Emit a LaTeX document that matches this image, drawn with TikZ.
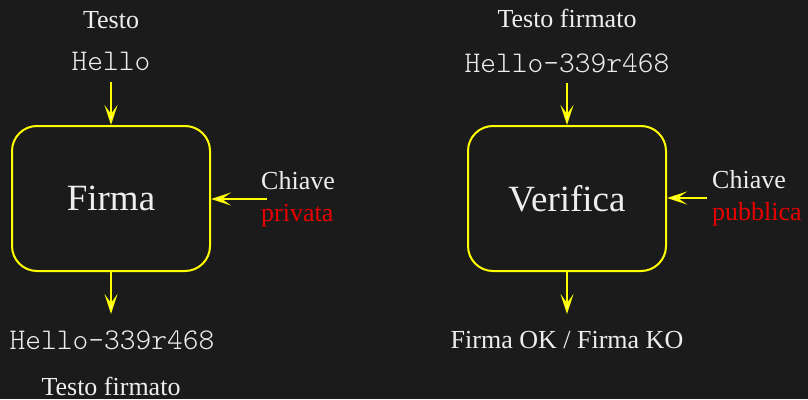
\documentclass[tikz,border=0pt]{standalone}
\usepackage{fontspec}
\setmainfont{Liberation Serif}
\setmonofont{Latin Modern Mono Light}
\usetikzlibrary{arrows.meta}
\definecolor{bg}{HTML}{1B1B1B}
\definecolor{fg}{HTML}{EEEEEE}
\definecolor{key}{HTML}{E80000}
\definecolor{ln}{HTML}{FFFF00}
\tikzset{
  txt/.style={text=fg, font=\fontsize{26}{28}\selectfont, inner sep=0pt, anchor=base},
  code/.style={text=fg, font=\ttfamily\fontsize{30}{32}\selectfont, inner sep=0pt, anchor=base},
  keytxt/.style={txt, anchor=base west},
  block/.style={draw=ln, line width=2pt, rounded corners=25pt, minimum width=198pt,
    minimum height=145pt, text=fg, font=\fontsize{37}{40}\selectfont},
  arr/.style={draw=ln, line width=1.6pt,
    -{Stealth[length=20pt, width=13pt, inset=9pt, fill=white!60!yellow]}},
}
\begin{document}
\begin{tikzpicture}[x=1pt, y=-1pt]
\path[fill=bg] (0,0) rectangle (808,399);

% signing step
\node[txt]  (t1)   at (111,28)  {Testo};
\node[code] (in1)  at (111,70)  {Hello};
\node[block] (sign) at (111,198.5) {Firma};
\node[keytxt] (k1a) at (261,189) {Chiave};
\node[keytxt, text=key] (k1b) at (261,221) {privata};
\node[code] (out1) at (112,349) {Hello-339r468};
\node[txt]  (t2)   at (111,395) {Testo firmato};
\coordinate (a1) at (111,82);
\coordinate (b1) at (267,199);
\coordinate (c1) at (111,314);
\draw[arr] (a1) -- (sign.north);
\draw[arr] (b1) -- (sign.east |- b1);
\draw[arr] (sign.south) -- (c1);

% verification step
\node[txt]  (t3)   at (567,27)  {Testo firmato};
\node[code] (in2)  at (567,72)  {Hello-339r468};
\node[block] (check) at (567,198.5) {Verifica};
\node[keytxt] (k2a) at (712,188) {Chiave};
\node[keytxt, text=key] (k2b) at (712,220) {pubblica};
\node[txt]  (res)  at (567,348) {Firma OK / Firma KO};
\coordinate (a2) at (567,83);
\coordinate (b2) at (707,198);
\coordinate (c2) at (567,314);
\draw[arr] (a2) -- (check.north);
\draw[arr] (b2) -- (check.east |- b2);
\draw[arr] (check.south) -- (c2);
\end{tikzpicture}
\end{document}
